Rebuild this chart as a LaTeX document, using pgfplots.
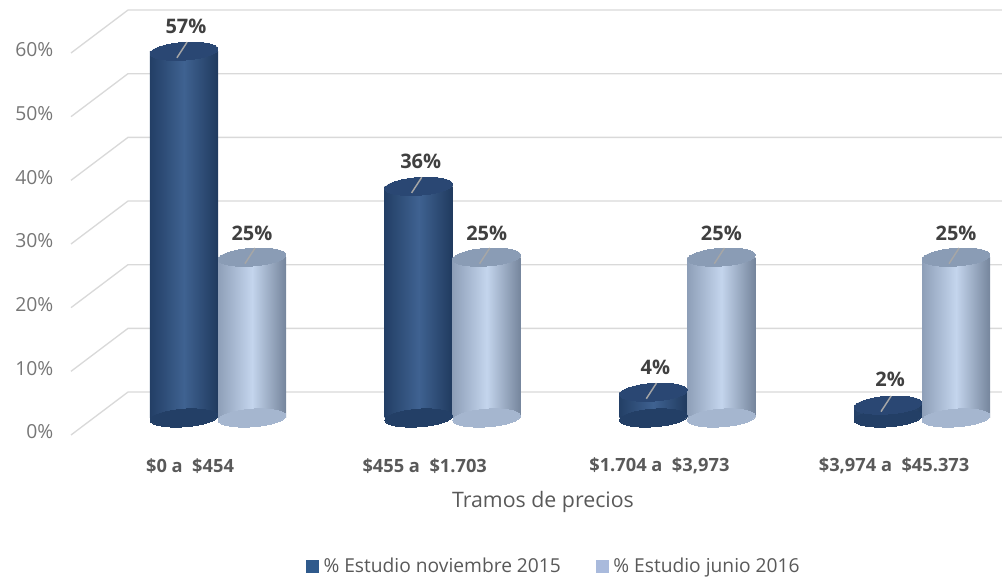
\documentclass[border=0pt]{standalone}
\usepackage{pgfplots}
\pgfplotsset{compat=1.18}
\usepackage{pgfplotstable}
\usepackage{fontspec}
\setmainfont{Open Sans}
\definecolor{gridc}{HTML}{D9D9D9}
\definecolor{tickc}{HTML}{767676}
\definecolor{labc}{HTML}{595959}
\definecolor{datac}{HTML}{404040}
\definecolor{dkmid}{HTML}{3F6291}
\definecolor{dkleft}{HTML}{233F66}
\definecolor{dkright}{HTML}{203A5E}
\definecolor{dktop}{HTML}{2A4773}
\definecolor{ltmid}{HTML}{C4D5ED}
\definecolor{ltleft}{HTML}{8E9FB8}
\definecolor{ltright}{HTML}{75859C}
\definecolor{lttop}{HTML}{8A9CB5}
\definecolor{ltbot}{HTML}{A5B6CF}
\definecolor{legdk}{HTML}{2F5A8C}
\definecolor{leglt}{HTML}{A9BADC}
\definecolor{leadc}{HTML}{A6A6A6}

\pgfplotstableread{
x nov jun
0 57 25
1 36 25
2 4 25
3 2 25
}\datatable

% gridlines: front point (0,v) -> back point (1,v+6.75) -> right edge
\pgfplotstableread{
gx g0 g1 g2 g3 g4 g5 g6
0     0     10    20    30    40    50    60
1     6.75  16.75 26.75 36.75 46.75 56.75 66.75
16.33 6.75  16.75 26.75 36.75 46.75 56.75 66.75
}\gridtable

\pgfplotsset{
  dkbar/.style={forget plot, ybar, bar width=51pt, bar shift=-25.5pt, draw=none,
    left color=dkleft, right color=dkright, middle color=dkmid},
  ltbar/.style={forget plot, ybar, bar width=51pt, bar shift=25.5pt, draw=none,
    left color=ltleft, right color=ltright, middle color=ltmid},
  ell/.style n args={2}{forget plot, only marks, mark=*, mark size=25.5pt,
    mark options={draw=#1, fill=#1, line width=0pt, xshift=#2, rotate=4, yscale=0.26}},
}

\begin{document}
\begin{tikzpicture}
\path[use as bounding box] (0,0) rectangle (751.5pt,435.75pt);
% front plane with tick labels and grid lines
\begin{axis}[
  at={(53.25pt,109.5pt)}, anchor=south west, scale only axis,
  width=42.75pt, height=286.5pt,
  xmin=0, xmax=1, ymin=0, ymax=60, clip=false,
  axis line style={draw=none}, tick style={draw=none},
  xtick=\empty, ytick={0,10,20,30,40,50,60},
  yticklabels={0\%,10\%,20\%,30\%,40\%,50\%,60\%},
  yticklabel style={anchor=east, inner sep=0pt, xshift=-13pt, yshift=2.25pt,
    font=\fontsize{14.5}{17}\selectfont, text=tickc},
]
\foreach \g in {g0,g1,g2,g3,g4,g5,g6}{
  \addplot[gridc, line width=1pt, forget plot] table[x=gx, y=\g]{\gridtable};
}
\end{axis}
% bars (mid plane)
\begin{axis}[
  at={(75.49pt,122.25pt)}, anchor=south west, scale only axis,
  width=675.9pt, height=289.5pt,
  xmin=-0.5, xmax=3.34, ymin=0, ymax=60, clip=false,
  axis line style={draw=none}, tick style={draw=none},
  ytick=\empty, xtick={0,1,2,3},
  xticklabels={{\$0 a\ \ \$454},{\$455 a\ \ \$1.703},{\$1.704 a\ \ \$3,973},{\$3,974 a\ \ \$45.373}},
  xticklabel style={font=\bfseries\fontsize{13.7}{16}\selectfont, text=labc,
    anchor=center, xshift=-21pt, yshift=-36pt},
  xlabel={Tramos de precios},
  xlabel style={at={(axis description cs:0.4908,0)}, anchor=center, yshift=-63pt,
    font=\fontsize{16}{19}\selectfont, text=labc},
  /pgf/number format/assume math mode=true,
  legend style={at={(axis description cs:0.503,-0.383)}, anchor=center, draw=none, fill=none,
    legend columns=2, font=\fontsize{14.4}{17}\selectfont, text=labc,
    /tikz/every even column/.append style={column sep=24pt}},
  legend cell align=left,
]
% dark series
\addplot[ell={dkleft}{-25.5pt}] table[x=x, y expr=0]{\datatable};
\addplot[dkbar] coordinates {(0,57)};
\addplot[dkbar] coordinates {(1,36)};
\addplot[dkbar] coordinates {(2,4)};
\addplot[dkbar] coordinates {(3,2)};
\addplot[ell={dktop}{-25.5pt}] table[x=x, y=nov]{\datatable};
% light series
\addplot[ell={ltbot}{25.5pt}] table[x=x, y expr=0]{\datatable};
\addplot[ltbar] coordinates {(0,25)};
\addplot[ltbar] coordinates {(1,25)};
\addplot[ltbar] coordinates {(2,25)};
\addplot[ltbar] coordinates {(3,25)};
\addplot[ell={lttop}{25.5pt}] table[x=x, y=jun]{\datatable};
% leader lines and labels
\addplot[forget plot, only marks, mark=|, mark size=7pt,
  mark options={draw=leadc, line width=1.1pt, xshift=-27pt, yshift=1pt, rotate=-33},
  nodes near coords={\pgfmathprintnumber{\pgfplotspointmeta}\%},
  every node near coord/.append style={anchor=center, xshift=3pt, yshift=18pt,
    font=\bfseries\fontsize{15}{18}\selectfont, text=datac}]
  table[x=x, y=nov]{\datatable};
\addplot[forget plot, only marks, mark=|, mark size=7pt,
  mark options={draw=leadc, line width=1.1pt, xshift=24pt, yshift=1pt, rotate=-33},
  nodes near coords={\pgfmathprintnumber{\pgfplotspointmeta}\%},
  every node near coord/.append style={anchor=center, xshift=1.5pt, yshift=17pt,
    font=\bfseries\fontsize{15}{18}\selectfont, text=datac}]
  table[x=x, y=jun]{\datatable};
% legend
\addlegendimage{legend image code/.code={\fill[legdk] (0pt,-4.5pt) rectangle (9pt,4.5pt); \path (11pt,0pt);}}
\addlegendentry{\% Estudio noviembre 2015}
\addlegendimage{legend image code/.code={\fill[leglt] (0pt,-4.5pt) rectangle (9pt,4.5pt); \path (11pt,0pt);}}
\addlegendentry{\% Estudio junio 2016}
\end{axis}
\end{tikzpicture}
\end{document}
